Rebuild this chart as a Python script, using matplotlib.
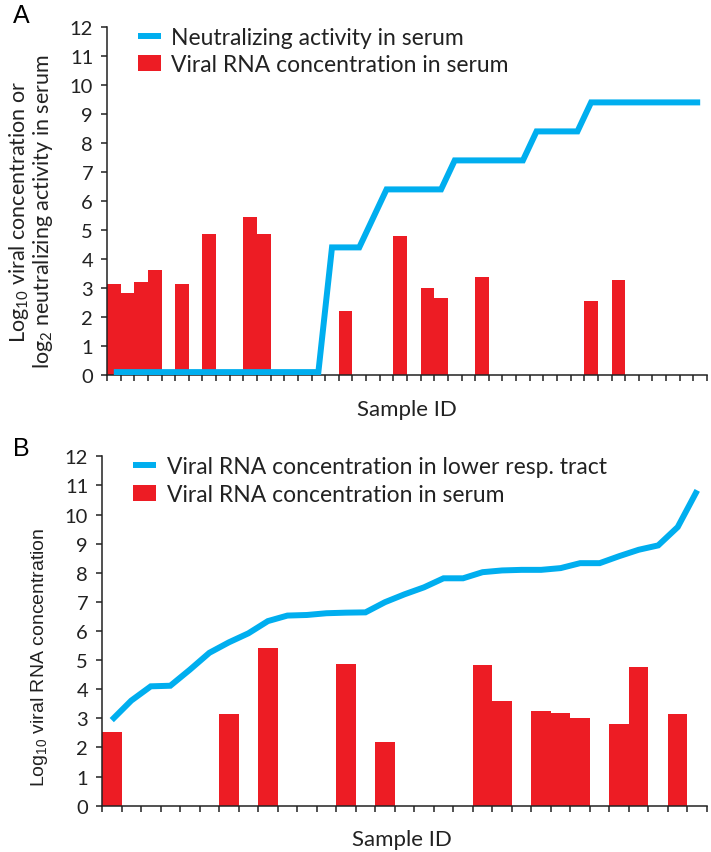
import matplotlib
matplotlib.use("Agg")
import matplotlib.pyplot as plt
from matplotlib.lines import Line2D
from matplotlib.patches import Patch
import numpy as np

# panel A: 44 samples
neut_a = [0.1] * 16 + [4.4, 4.4, 4.4, 5.4, 6.4, 6.4, 6.4, 6.4, 6.4,
                       7.4, 7.4, 7.4, 7.4, 7.4, 7.4, 8.4, 8.4, 8.4, 8.4,
                       9.4, 9.4, 9.4, 9.4, 9.4, 9.4, 9.4, 9.4, 9.4]
serum_a = [3.15, 2.82, 3.2, 3.62, 0, 3.14, 0, 4.85, 0, 0, 5.44, 4.87,
           0, 0, 0, 0, 0, 2.2, 0, 0, 0, 4.78, 0, 3.01, 2.67, 0, 0, 3.38,
           0, 0, 0, 0, 0, 0, 0, 2.55, 0, 3.27, 0, 0, 0, 0, 0, 0]

# panel B: 31 samples
lrt_b = [2.94, 3.61, 4.1, 4.12, 4.67, 5.25, 5.61, 5.92, 6.34, 6.53, 6.55,
         6.61, 6.63, 6.64, 6.99, 7.26, 7.5, 7.81, 7.81, 8.02, 8.08, 8.1,
         8.1, 8.16, 8.33, 8.33, 8.57, 8.79, 8.94, 9.57, 10.83]
serum_b = [2.54, 0, 0, 0, 0, 0, 3.16, 0, 5.43, 0, 0, 0, 4.86, 0, 2.19,
           0, 0, 0, 0, 4.83, 3.61, 0, 3.25, 3.2, 3.0, 0, 2.81, 4.78, 0,
           3.14, 0]

blue = "#00aeef"
red = "#ed1c24"
W, H = 711, 853

plt.rcParams["font.family"] = ["Lato", "DejaVu Sans"]
plt.rcParams["mathtext.default"] = "regular"

fig = plt.figure(figsize=(W / 100, H / 100), dpi=100)


def panel(rect, line_vals, bar_vals, line_label, legend_top):
    ax = fig.add_axes(rect)
    n = len(bar_vals)
    x = np.arange(n)
    ax.bar(x, bar_vals, width=1.0, color=red, zorder=2)
    ax.plot(x, line_vals, color=blue, lw=4.3, solid_capstyle="butt",
            solid_joinstyle="miter", zorder=3)
    ax.set_xlim(-0.5, n - 0.5)
    ax.set_ylim(0, 12)
    ax.set_yticks(range(13))
    ax.set_xticks(np.arange(n + 1) - 0.5)
    ax.set_xticklabels([])
    for s in ["top", "right"]:
        ax.spines[s].set_visible(False)
    for s in ["left", "bottom"]:
        ax.spines[s].set_linewidth(1.1)
        ax.spines[s].set_color("#222222")
    ax.tick_params(axis="y", direction="out", length=4, width=1.1,
                   labelsize=14.5, pad=6, colors="#222222")
    ax.tick_params(axis="x", direction="out", length=4.5, width=1.1,
                   colors="#222222")
    handles = [Line2D([], [], color=blue, lw=4.3, solid_capstyle="butt"),
               Patch(facecolor=red)]
    ax.legend(handles, [line_label, "Viral RNA concentration in serum"],
              loc="upper left", bbox_to_anchor=(0.052, legend_top),
              frameon=False, fontsize=16.5, handlelength=1.0,
              handleheight=0.7, handletextpad=0.45, labelspacing=0.28,
              borderpad=0, borderaxespad=0, labelcolor="#222222")
    return ax


ax_a = panel([107 / W, 1 - 376 / H, 600 / W, 348 / H],
             neut_a, serum_a, "Neutralizing activity in serum", 1.0)
ax_b = panel([102 / W, 1 - 806.7 / H, 605 / W, 349.4 / H],
             lrt_b, serum_b, "Viral RNA concentration in lower resp. tract", 1.0)

fig.text(21 / W, 1 - 16 / H, "A", fontsize=18, family="Liberation Sans",
         ha="center", va="center")
fig.text(21 / W, 1 - 449 / H, "B", fontsize=18, family="Liberation Sans",
         ha="center", va="center")

fig.text(31 / W, 1 - 212 / H,
         "Log$_{10}$ viral concentration or\nlog$_2$ neutralizing activity in serum",
         rotation=90, ha="center", va="center", fontsize=15.5,
         multialignment="center", linespacing=1.05, color="#222222")
fig.text(40 / W, 1 - 657 / H, "Log$_{10}$ viral RNA concentration",
         rotation=90, ha="center", va="center", fontsize=14,
         family="Liberation Sans", color="#222222")

fig.text(407 / W, 1 - 416 / H, "Sample ID", fontsize=16, ha="center",
         va="baseline", color="#222222")
fig.text(402 / W, 1 - 846 / H, "Sample ID", fontsize=16, ha="center",
         va="baseline", color="#222222")

fig.savefig("out.png", dpi=100)
